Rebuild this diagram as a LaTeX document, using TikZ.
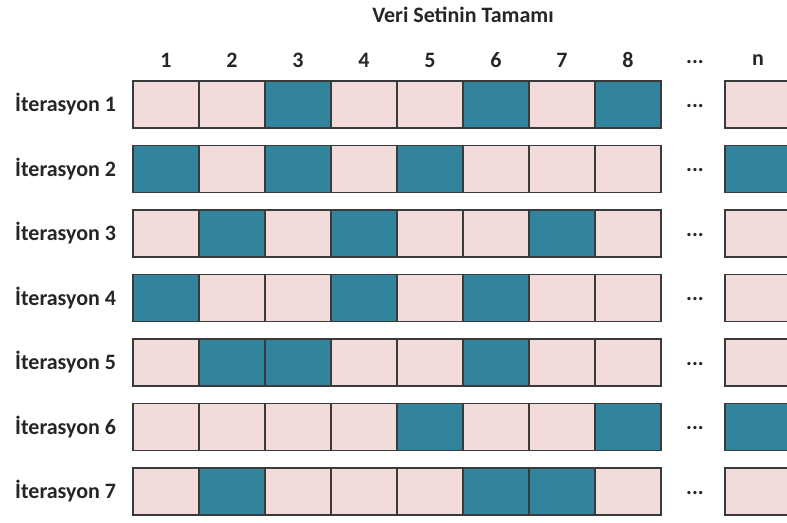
\documentclass[tikz,border=0pt]{standalone}
\usepackage{fontspec}
\setmainfont{Carlito}
\definecolor{teal}{HTML}{31849B}
\definecolor{pinkc}{HTML}{F2DCDB}
\definecolor{edge}{HTML}{3A3A3A}
\begin{document}
\begin{tikzpicture}[x=1pt,y=-1pt,
  cell/.style={draw=edge,line width=1.3pt,minimum width=66pt,minimum height=47pt,anchor=north west,inner sep=0pt,outer sep=0pt},
  pk/.style={cell,fill=pinkc},
  tl/.style={cell,fill=teal},
  lbl/.style={font=\bfseries\fontsize{22}{24}\selectfont,text=black!85,inner sep=0pt},
  rowlbl/.style={lbl,anchor=west}]
\useasboundingbox (0,0) rectangle (787,522);
\clip (0,0) rectangle (787,522);
\node[lbl] (title) at (463,15) {Veri Setinin Tamamı};
\foreach \c in {1,...,8}{
  \node[lbl] (h\c) at ({133+66*(\c-1)+33},60) {\c};
}
\node[lbl] (hd) at (695,62) {...};
\node[lbl] (hn) at (758,60) {n};
\foreach \r/\teals/\nt in {1/{3,6,8}/0, 2/{1,3,5}/1, 3/{2,4,7}/0, 4/{1,4,6}/0, 5/{2,3,6}/0, 6/{5,8}/1, 7/{2,6,7}/0}{
  \pgfmathsetmacro\yy{81+64.5*(\r-1)}
  \node[rowlbl] (l\r) at (15,\yy+23.5) {İterasyon \r};
  \foreach \c in {1,...,8}{
    \node[pk] (c\r-\c) at ({133+66*(\c-1)},\yy) {};
  }
  \foreach \c in \teals{
    \node[tl] (t\r-\c) at ({133+66*(\c-1)},\yy) {};
  }
  \ifnum\nt=1
    \node[tl] (n\r) at (725,\yy) {};
  \else
    \node[pk] (n\r) at (725,\yy) {};
  \fi
  \node[lbl] (d\r) at (695,\yy+25) {...};
}
\end{tikzpicture}
\end{document}
